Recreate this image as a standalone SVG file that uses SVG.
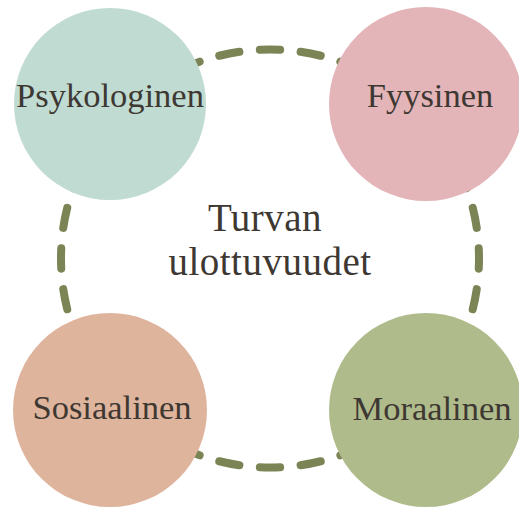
<svg xmlns="http://www.w3.org/2000/svg" width="519" height="507" viewBox="0 0 519 507">
  <style>
    .ring { fill: none; stroke: #7b8455; stroke-width: 8; stroke-linecap: round; stroke-dasharray: 5 5; stroke-dashoffset: 2.5; }
    .lbl { font-family: "Liberation Serif", "DejaVu Serif", serif; font-size: 34.5px; fill: #3e3833; text-anchor: middle; }
    .title { font-family: "Liberation Serif", "DejaVu Serif", serif; font-size: 39px; fill: #3e3833; text-anchor: middle; letter-spacing: 0.5px; }
  </style>
  <rect width="519" height="507" fill="#ffffff"/>
  <g id="connectors">
    <circle class="ring" cx="270" cy="258.5" r="209" pathLength="320"/>
  </g>
  <g id="center">
    <text class="title" x="265" y="231">Turvan</text>
    <text class="title" x="270" y="275">ulottuvuudet</text>
  </g>
  <g id="psykologinen">
    <circle cx="110" cy="104" r="96" fill="#c0dbd1"/>
    <text class="lbl" x="110" y="107">Psykologinen</text>
  </g>
  <g id="fyysinen">
    <circle cx="426" cy="104" r="97" fill="#e3b5b9"/>
    <text class="lbl" x="430" y="107">Fyysinen</text>
  </g>
  <g id="sosiaalinen">
    <circle cx="110" cy="410" r="97" fill="#dfb49d"/>
    <text class="lbl" x="112" y="419">Sosiaalinen</text>
  </g>
  <g id="moraalinen">
    <circle cx="426" cy="410" r="97" fill="#b0bb8b"/>
    <text class="lbl" x="432" y="420">Moraalinen</text>
  </g>
</svg>
